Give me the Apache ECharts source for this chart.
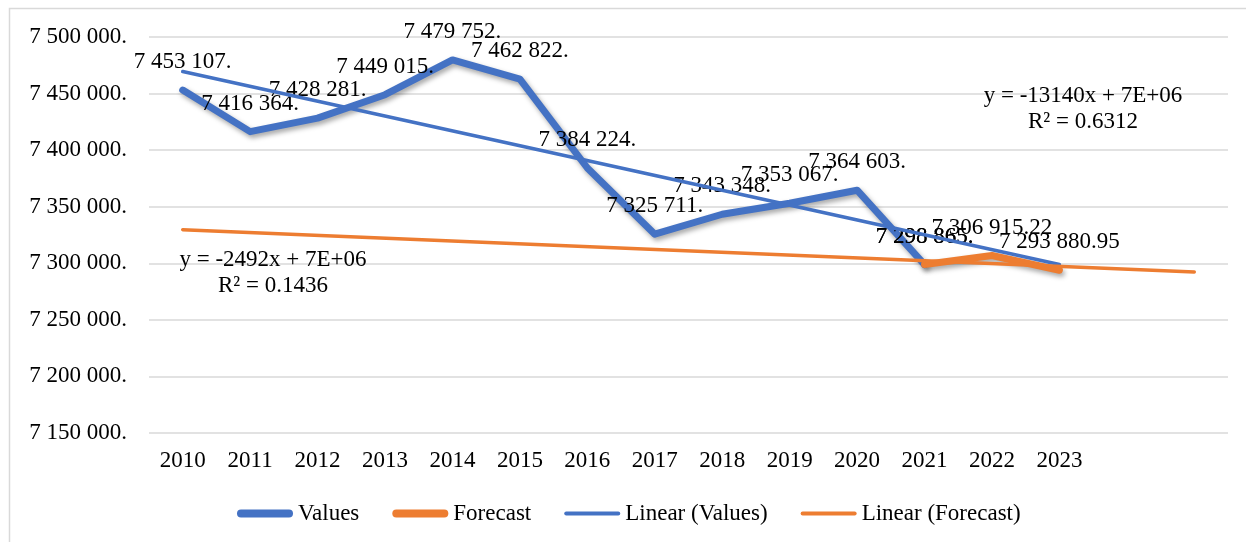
<!DOCTYPE html>
<html>
<head>
<meta charset="utf-8">
<script src="https://cdn.jsdelivr.net/npm/echarts@6/dist/echarts.min.js"></script>
<style>
  html, body { margin: 0; padding: 0; background: #fff; }
  #chart { width: 1246px; height: 542px; }
</style>
</head>
<body>
<div id="chart"></div>
<script>
// categories (the last two slots are empty, the forecast trend runs into them)
const years = ['2010', '2011', '2012', '2013', '2014', '2015', '2016', '2017',
  '2018', '2019', '2020', '2021', '2022', '2023', '', ''];

// actual values 2010-2021
const values = [7453107, 7416364, 7428281, 7449015, 7479752, 7462822, 7384224,
  7325711, 7343348, 7353067, 7364603, 7298865];

// forecast 2021-2023
const forecastStart = 11;
const forecast = [7298865, 7306915.22, 7293880.95];

// trend lines: [start index, start value, end index, end value]
const trendValues = [0, 7469500, 13, 7299000];
const trendForecast = [0, 7329700, 15, 7292300];

const eqValues = 'y = -13140x + 7E+06\nR² = 0.6312';
const eqForecast = 'y = -2492x + 7E+06\nR² = 0.1436';

const BLUE = '#4472C4';
const ORANGE = '#ED7D31';
const FONT = '"Liberation Serif", "Times New Roman", serif';

// "7 453 107." / "7 306 915.22"
function fmt(v) {
  const isInt = Math.round(v) === v;
  const s = isInt ? String(v) : v.toFixed(2);
  const parts = s.split('.');
  const intPart = parts[0].replace(/\B(?=(\d{3})+(?!\d))/g, ' ');
  return intPart + '.' + (parts[1] || '');
}

function pad(arr, offset) {
  const out = years.map(() => '-');
  arr.forEach((v, i) => { out[offset + i] = v; });
  return out;
}

function trend(t) {
  const out = years.map(() => '-');
  out[t[0]] = t[1];
  out[t[2]] = t[3];
  return out;
}

const shadow = {
  shadowColor: 'rgba(0,0,0,0.35)',
  shadowBlur: 5,
  shadowOffsetX: 2,
  shadowOffsetY: 3
};

const dataLabel = {
  show: true,
  position: 'top',
  distance: 16,
  color: '#000',
  fontFamily: FONT,
  fontSize: 23,
  formatter: p => fmt(p.value)
};

const thickIcon = 'path://M4 0H52A4 4 0 0 1 52 8H4A4 4 0 0 1 4 0Z';
const thinIcon = 'path://M2 0H54A2 2 0 0 1 54 4H2A2 2 0 0 1 2 0Z';

const chart = echarts.init(document.getElementById('chart'));

chart.setOption({
  animation: false,
  backgroundColor: '#fff',
  grid: { left: 149, right: 18, top: 37, bottom: 109 },
  xAxis: {
    type: 'category',
    data: years,
    boundaryGap: true,
    axisLine: { show: false },
    axisTick: { show: false },
    axisLabel: { color: '#000', fontFamily: FONT, fontSize: 23, margin: 16, interval: 0 }
  },
  yAxis: {
    type: 'value',
    min: 7150000,
    max: 7500000,
    interval: 50000,
    axisLine: { show: false },
    axisTick: { show: false },
    axisLabel: {
      color: '#000', fontFamily: FONT, fontSize: 23, margin: 22,
      formatter: v => fmt(v)
    },
    splitLine: { lineStyle: { color: '#d9d9d9', width: 1.5 } }
  },
  legend: {
    left: 232,
    top: 497,
    itemWidth: 56,
    itemHeight: 8,
    itemGap: 33,
    textStyle: { color: '#000', fontFamily: FONT, fontSize: 23 },
    data: [
      { name: 'Values', icon: thickIcon, itemStyle: { color: BLUE } },
      { name: 'Forecast', icon: thickIcon, itemStyle: { color: ORANGE } },
      { name: 'Linear (Values)', icon: thinIcon, itemStyle: { color: BLUE } },
      { name: 'Linear (Forecast)', icon: thinIcon, itemStyle: { color: ORANGE } }
    ]
  },
  series: [
    {
      name: 'Values',
      type: 'line',
      data: pad(values, 0),
      symbol: 'circle',
      symbolSize: 1,
      showAllSymbol: true,
      itemStyle: { color: 'rgba(0,0,0,0)' },
      color: BLUE,
      lineStyle: Object.assign({ width: 7, color: BLUE, cap: 'round', join: 'round' }, shadow),
      label: dataLabel,
      z: 2
    },
    {
      name: 'Forecast',
      type: 'line',
      data: pad(forecast, forecastStart),
      symbol: 'circle',
      symbolSize: 1,
      showAllSymbol: true,
      itemStyle: { color: 'rgba(0,0,0,0)' },
      color: ORANGE,
      lineStyle: Object.assign({ width: 7, color: ORANGE, cap: 'round', join: 'round' }, shadow),
      label: dataLabel,
      z: 2
    },
    {
      name: 'Linear (Values)',
      type: 'line',
      data: trend(trendValues),
      connectNulls: true,
      symbol: 'none',
      color: BLUE,
      lineStyle: { width: 3.5, color: BLUE, cap: 'round' },
      z: 3
    },
    {
      name: 'Linear (Forecast)',
      type: 'line',
      data: trend(trendForecast),
      connectNulls: true,
      symbol: 'none',
      color: ORANGE,
      lineStyle: { width: 3.5, color: ORANGE, cap: 'round' },
      z: 3
    }
  ],
  graphic: [
    {
      type: 'rect',
      shape: { x: 9.5, y: 8.5, width: 1300, height: 600 },
      style: { fill: 'none', stroke: '#d9d9d9', lineWidth: 1.5 },
      silent: true
    },
    {
      type: 'text',
      x: 1083, y: 83,
      style: { text: eqValues, fill: '#000', font: '23px ' + FONT, align: 'center', lineHeight: 26 },
      z: 10
    },
    {
      type: 'text',
      x: 273, y: 247,
      style: { text: eqForecast, fill: '#000', font: '23px ' + FONT, align: 'center', lineHeight: 26 },
      z: 10
    }
  ]
});
</script>
</body>
</html>
